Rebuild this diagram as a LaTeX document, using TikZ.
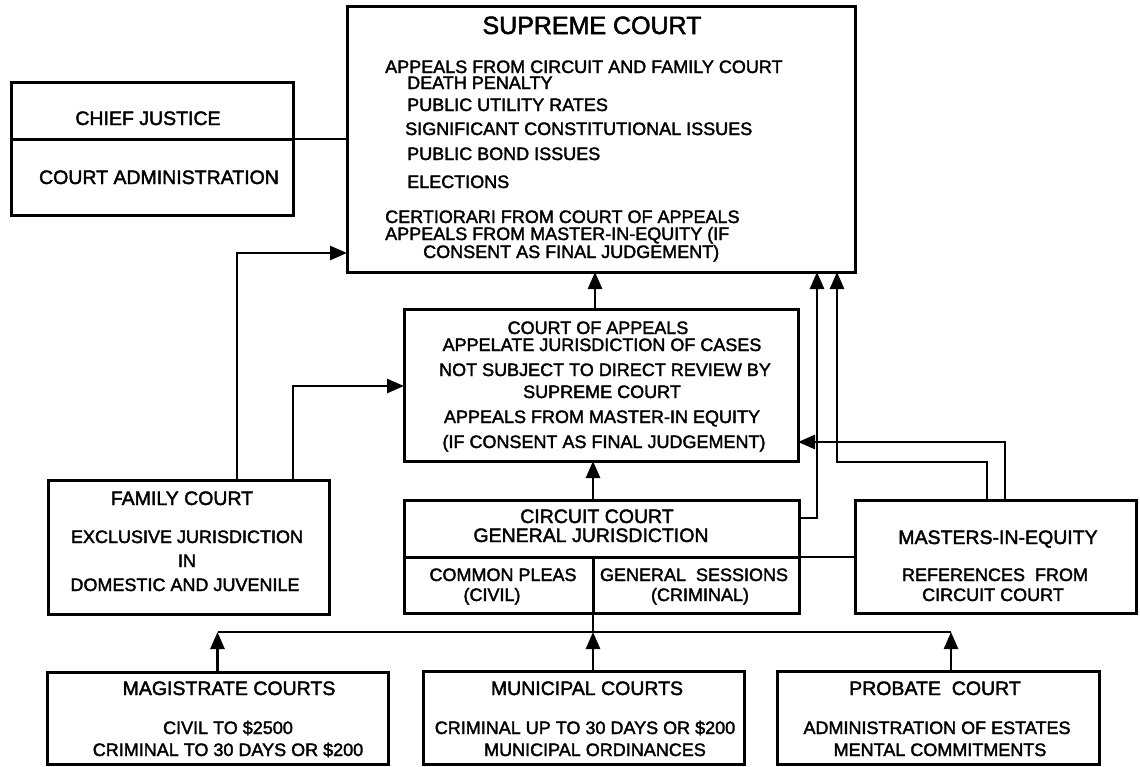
\documentclass[tikz,border=0pt]{standalone}
\usepackage{fontspec}
\setmainfont{Liberation Sans}[FakeBold=2]
\usepackage{tikz}
\usetikzlibrary{arrows.meta}

\begin{document}
\begin{tikzpicture}[x=1pt,y=-1pt,
  court/.style={draw, line width=3pt, inner sep=0pt, outer sep=0pt},
  link/.style={line width=2.6pt},
  arr/.style={link, -{Triangle[length=17pt,width=14pt]}},
  lbl/.style={anchor=base, inner sep=0pt, font=\fontsize{18}{18}\selectfont},
  ttl/.style={lbl, font=\fontsize{19.5}{20}\selectfont},
  lft/.style={lbl, anchor=base west}]
  \useasboundingbox (0,0) rectangle (1140,766);

  % boxes
  \node[court, minimum width=282pt, minimum height=57pt] (chief) at (152,110.5) {};
  \node[court, minimum width=282pt, minimum height=76pt] (admin) at (152,177) {};
  \node[court, minimum width=508pt, minimum height=266pt] (supreme) at (601,139) {};
  \node[court, minimum width=394pt, minimum height=152pt] (appeals) at (601,385) {};
  \node[court, minimum width=281pt, minimum height=134pt] (family) at (188.5,547) {};
  \node[court, minimum width=395pt, minimum height=57pt] (circuit) at (601.5,528.5) {};
  \node[court, minimum width=189pt, minimum height=56pt] (pleas) at (498.5,585) {};
  \node[court, minimum width=206pt, minimum height=56pt] (sessions) at (696,585) {};
  \node[court, minimum width=281pt, minimum height=113pt] (masters) at (995.5,556.5) {};
  \node[court, minimum width=341pt, minimum height=92pt] (magistrate) at (217.5,718) {};
  \node[court, minimum width=321pt, minimum height=93pt] (municipal) at (583.5,717.5) {};
  \node[court, minimum width=322pt, minimum height=93pt] (probate) at (938,717.5) {};

  % texts
  \node[ttl] (chief-t) at (148,125) {CHIEF JUSTICE};
  \node[ttl] (admin-t) at (159,184) {COURT ADMINISTRATION};

  \node[lbl, font=\fontsize{25}{25}\selectfont] (supreme-t) at (592,34) {SUPREME COURT};
  \node[lft] (supreme-1) at (385,73) {APPEALS FROM CIRCUIT AND FAMILY COURT};
  \node[lft] (supreme-2) at (407,89) {DEATH PENALTY};
  \node[lft] (supreme-3) at (407,111) {PUBLIC UTILITY RATES};
  \node[lft] (supreme-4) at (405,135) {SIGNIFICANT CONSTITUTIONAL ISSUES};
  \node[lft] (supreme-5) at (407,160) {PUBLIC BOND ISSUES};
  \node[lft] (supreme-6) at (407,188) {ELECTIONS};
  \node[lft] (supreme-7) at (385,223) {CERTIORARI FROM COURT OF APPEALS};
  \node[lft] (supreme-8) at (385,240) {APPEALS FROM MASTER-IN-EQUITY (IF};
  \node[lft] (supreme-9) at (423,258) {CONSENT AS FINAL JUDGEMENT)};

  \node[lbl] (appeals-t) at (598,334) {COURT OF APPEALS};
  \node[lbl] (appeals-1) at (602,351) {APPELATE JURISDICTION OF CASES};
  \node[lbl] (appeals-2) at (605,376) {NOT SUBJECT TO DIRECT REVIEW BY};
  \node[lbl] (appeals-3) at (602,398) {SUPREME COURT};
  \node[lbl] (appeals-4) at (602,423) {APPEALS FROM MASTER-IN EQUITY};
  \node[lbl] (appeals-5) at (604,448) {(IF CONSENT AS FINAL JUDGEMENT)};

  \node[ttl] (family-t) at (182,505) {FAMILY COURT};
  \node[lbl] (family-1) at (187,543) {EXCLUSIVE JURISDICTION};
  \node[lbl] (family-2) at (187,567) {IN};
  \node[lbl] (family-3) at (185,591) {DOMESTIC AND JUVENILE};

  \node[ttl] (circuit-t) at (597,523) {CIRCUIT COURT};
  \node[ttl] (circuit-1) at (591,542) {GENERAL JURISDICTION};
  \node[lbl] (pleas-t) at (503,581) {COMMON PLEAS};
  \node[lbl] (pleas-1) at (492,601) {(CIVIL)};
  \node[lbl] (sessions-t) at (694,581) {GENERAL\ \ SESSIONS};
  \node[lbl] (sessions-1) at (700,601) {(CRIMINAL)};

  \node[ttl] (masters-t) at (998,544) {MASTERS-IN-EQUITY};
  \node[lbl] (masters-1) at (995,581) {REFERENCES\ \ FROM};
  \node[lbl] (masters-2) at (993,601) {CIRCUIT COURT};

  \node[ttl] (magistrate-t) at (229,695) {MAGISTRATE COURTS};
  \node[lbl] (magistrate-1) at (228,734) {CIVIL TO \$2500};
  \node[lbl] (magistrate-2) at (228,756) {CRIMINAL TO 30 DAYS OR \$200};

  \node[ttl] (municipal-t) at (587,695) {MUNICIPAL COURTS};
  \node[lbl] (municipal-1) at (585,734) {CRIMINAL UP TO 30 DAYS OR \$200};
  \node[lbl] (municipal-2) at (595,756) {MUNICIPAL ORDINANCES};

  \node[ttl] (probate-t) at (935,695) {PROBATE\ \ COURT};
  \node[lbl] (probate-1) at (937,734) {ADMINISTRATION OF ESTATES};
  \node[lbl] (probate-2) at (940,756) {MENTAL COMMITMENTS};

  % bends
  \coordinate (fs) at (237,253);
  \coordinate (fa) at (293,386);
  \coordinate (as) at (595,290);
  \coordinate (cs) at (817,518);
  \coordinate (ms) at (987,462);
  \coordinate (ms2) at (837,462);
  \coordinate (ma) at (1005,442);
  \coordinate (bus) at (593,632);
  \coordinate (pb) at (951,632);

  % connectors
  \draw[link] (chief.south east) -- (chief.south east -| supreme.west);
  \draw[arr] (family.north -| fs) |- (supreme.west |- fs);
  \draw[arr] (family.north -| fa) |- (appeals.west |- fa);
  \draw[arr] (appeals.north -| as) -- (supreme.south -| as);
  \draw[arr] (circuit.north -| pleas.east) -- (appeals.south -| pleas.east);
  \draw[arr] (circuit.east |- cs) -| (supreme.south -| cs);
  \draw[arr] (masters.north -| ms) |- (ms2) -- (supreme.south -| ms2);
  \draw[arr] (masters.north -| ma) |- (appeals.east |- ma);
  \draw[link] (circuit.south east) -- (circuit.south east -| masters.west);
  \draw[link] (pleas.south east) -- (bus);
  \draw[link] (magistrate.north |- bus) -- (pb);
  \draw[arr] (magistrate.north) -- (magistrate.north |- bus);
  \draw[arr] (municipal.north -| bus) -- (bus);
  \draw[arr] (probate.north -| pb) -- (pb);
\end{tikzpicture}
\end{document}
